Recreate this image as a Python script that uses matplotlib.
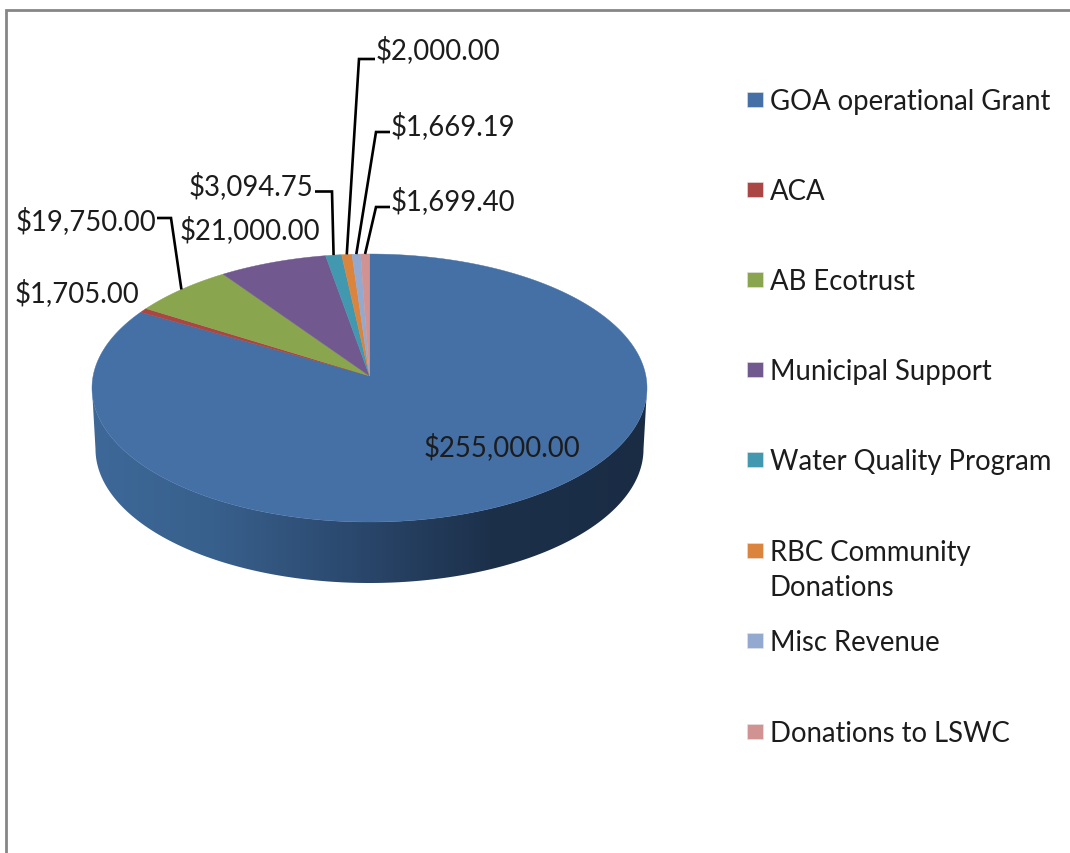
import numpy as np
import matplotlib
matplotlib.use("Agg")
import matplotlib.pyplot as plt
from matplotlib.patches import Polygon, Rectangle
from matplotlib.colors import LinearSegmentedColormap

categories = ["GOA operational Grant", "ACA", "AB Ecotrust", "Municipal Support",
              "Water Quality Program", "RBC Community\nDonations", "Misc Revenue", "Donations to LSWC"]
values = [255000.00, 1705.00, 19750.00, 21000.00, 3094.75, 2000.00, 1669.19, 1699.40]
colors = ["#4470a6", "#aa4643", "#89a54e", "#71588f", "#4198af", "#db843d", "#93a9cf", "#d19392"]
legend_y = [100, 190, 280, 370, 460, 551, 641, 732]

# label anchor (left x, baseline y) and optional leader elbow points
label_pos = [(424, 456), (15, 302), (16, 230), (180, 239), (189, 195), (376, 59), (391, 135), (391, 210)]
leaders = [None, None, [(157, 219), (171, 219)], None, [(315, 192.5), (332, 192.5)],
           [(375, 60), (359, 60)], [(390, 133), (376, 133)], [(390, 208), (376, 208)]]

TEXT = "#1c1c1c"
FS = 19.8
plt.rcParams["font.family"] = ["Lato", "DejaVu Sans"]

fig = plt.figure(figsize=(10.70, 8.54), dpi=100, facecolor="white")
ax = fig.add_axes([0, 0, 1, 1])
ax.set_axis_off()

CX, CY, RX, RY, TILT, DEPTH_CY, DEPTH_RX = 369.5, 389.0, 277.5, 134.0, 0.09, 450.0, 274.0


def rim(frac):
    """Fraction of the pie (clockwise from 12 o'clock) to a point on the tilted rim."""
    t = 2 * np.pi * np.asarray(frac)
    u, v = np.sin(t), np.cos(t)
    d = 1 + TILT * v
    return CX + RX * u * np.sqrt(1 - TILT ** 2) / d, CY - RY * (v + TILT) / d


# side wall with horizontal gradient
phi = np.linspace(-np.pi / 2, np.pi / 2, 300)
top_x, top_y = CX + RX * np.sin(phi), CY + RY * np.cos(phi)
bot_x, bot_y = CX + DEPTH_RX * np.sin(phi), DEPTH_CY + RY * np.cos(phi)
wall = np.vstack([np.column_stack([top_x, top_y]),
                  np.column_stack([bot_x[::-1], bot_y[::-1]])])
cmap = LinearSegmentedColormap.from_list("wall", [
    (0.00, "#3d6898"), (0.22, "#38608c"), (0.45, "#2c4a70"), (0.72, "#1c304a"), (1.00, "#1a2c44")])
im = ax.imshow(np.linspace(0, 1, 512)[None, :], extent=(CX - RX, CX + RX, 600, 380),
               cmap=cmap, aspect="auto", zorder=1, interpolation="bilinear")
clip = Polygon(wall, closed=True, transform=ax.transData, fc="none", ec="none")
ax.add_patch(clip)
im.set_clip_path(clip)

# top face slices
apex = rim(0.0)[0], CY - RY * TILT
fracs = np.cumsum([0] + values) / np.sum(values)
for i, col in enumerate(colors):
    f = np.linspace(fracs[i], fracs[i + 1], max(int((fracs[i + 1] - fracs[i]) * 720), 6))
    x, y = rim(f)
    pts = np.vstack([[apex], np.column_stack([x, y])])
    ax.add_patch(Polygon(pts, closed=True, fc=col, ec=col, lw=0.3, zorder=2))

# labels and leader lines
for i, v in enumerate(values):
    ax.text(*label_pos[i], f"${v:,.2f}", fontsize=FS, color=TEXT, ha="left", va="baseline", zorder=4)
    if leaders[i]:
        ex, ey = rim((fracs[i] + fracs[i + 1]) / 2)
        xs, ys = zip(*(leaders[i] + [(float(ex), float(ey))]))
        ax.plot(xs, ys, color="black", lw=1.9, zorder=3, solid_joinstyle="miter", solid_capstyle="butt")

# legend
for name, col, y in zip(categories, colors, legend_y):
    ax.add_patch(Rectangle((746.5, y - 7.5), 16.5, 15.5, fc=col, ec="#e6e6e6", lw=0.4, zorder=3))
    if "\n" in name:
        ax.text(770, y - 11, name, fontsize=FS, color=TEXT, ha="left", va="top", linespacing=1.42, zorder=4)
    else:
        ax.text(770, y + 10, name, fontsize=FS, color=TEXT, ha="left", va="baseline", zorder=4)

# chart-area border (runs off the right and bottom edges)
ax.plot([5.5, 5.5, 1075], [860, 10.5, 10.5], color="#868686", lw=2.0, zorder=5, solid_joinstyle="miter")

ax.set_xlim(0, 1070)
ax.set_ylim(854, 0)
fig.savefig("out.png", dpi=100, facecolor="white")
